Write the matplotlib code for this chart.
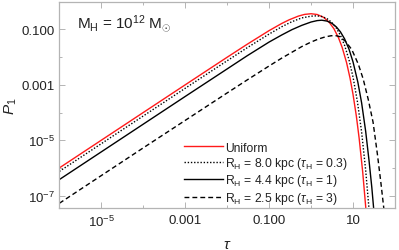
import matplotlib
matplotlib.use("Agg")
import matplotlib.pyplot as plt
from matplotlib.ticker import FixedLocator, FixedFormatter, NullFormatter

plt.rcParams['font.family'] = ['Liberation Sans', 'DejaVu Sans']
plt.rcParams['mathtext.fontset'] = 'custom'
plt.rcParams['mathtext.rm'] = 'Liberation Sans'
plt.rcParams['mathtext.it'] = 'Liberation Sans:italic'
plt.rcParams['mathtext.bf'] = 'Liberation Sans:bold'

# ---- data ----
tau_uniform = [1e-6, 1e-5, 1e-4, 1e-3, 0.01, 0.03, 0.1, 0.2, 0.3, 0.5, 0.7, 1.0, 1.4, 2.0,
               2.7, 3.5, 4.5, 5.5, 7, 8.5, 10, 12, 14, 17, 20, 24]
p_uniform = [1.0e-6, 1.0e-5, 1.0e-4, 9.99e-4, 9.9e-3, 0.0291, 0.0905, 0.164, 0.222, 0.303,
             0.348, 0.368, 0.345, 0.271, 0.181, 0.106, 0.050, 0.0225, 6.4e-3, 1.72e-3,
             4.5e-4, 7.4e-5, 1.16e-5, 7.1e-7, 4.1e-8, 9.1e-10]

tau_r80 = [1e-6, 1e-5, 1e-4, 1e-3, 0.01, 0.03, 0.1, 0.2, 0.35, 0.6, 1.0, 1.35, 1.8, 2.4,
           3.1, 4.0, 5.0, 6.3, 8.0, 10, 12.7, 16, 20, 24, 28]
p_r80 = [7.5e-7, 7.5e-6, 7.5e-5, 7.5e-4, 7.4e-3, 0.0218, 0.068, 0.125, 0.19, 0.26, 0.30,
         0.31, 0.293, 0.244, 0.18, 0.112, 0.0614, 0.0264, 8.1e-3, 1.9e-3, 2.5e-4, 2.0e-5,
         8.3e-7, 3.4e-8, 1.3e-9]

tau_r44 = [1e-6, 1e-5, 1e-4, 1e-3, 0.01, 0.03, 0.1, 0.2, 0.35, 0.6, 1.0, 1.4, 1.8, 2.4,
           3.1, 4.0, 5.0, 6.3, 8.0, 10, 13, 16, 20, 24, 28, 32, 36]
p_r44 = [3.8e-7, 3.8e-6, 3.8e-5, 3.8e-4, 3.75e-3, 0.0112, 0.035, 0.063, 0.098, 0.14, 0.185,
         0.208, 0.215, 0.1995, 0.168, 0.123, 0.082, 0.0454, 0.0195, 6.7e-3, 1.26e-3,
         2.25e-4, 2.1e-5, 1.9e-6, 2.0e-7, 2.0e-8, 2.0e-9]

tau_r25 = [1e-6, 1e-5, 1e-4, 1e-3, 0.01, 0.03, 0.1, 0.2, 0.35, 0.6, 1.0, 1.5, 2.2, 3.0,
           3.8, 4.8, 6.5, 9.3, 13.4, 17.5, 23, 30, 38, 46, 54, 60]
p_r25 = [5.3e-8, 5.3e-7, 5.3e-6, 5.2e-5, 5.1e-4, 1.5e-3, 4.8e-3, 9.2e-3, 0.015, 0.024,
         0.035, 0.045, 0.054, 0.059, 0.060, 0.055, 0.038, 0.019, 5.5e-3, 1.6e-3, 3.0e-4,
         4.5e-5, 3.2e-6, 3.0e-7, 3.6e-8, 8e-9]

labels = ['Uniform',
          r'R$_\mathregular{H}$ = 8.0 kpc ($\tau_\mathregular{H}$ = 0.3)',
          r'R$_\mathregular{H}$ = 4.4 kpc ($\tau_\mathregular{H}$ = 1)',
          r'R$_\mathregular{H}$ = 2.5 kpc ($\tau_\mathregular{H}$ = 3)']

xmajor = [1e-5, 1e-3, 0.1, 10]
xmajor_labels = [r'10$^{\mathregular{-5}}$', '0.001', '0.100', '10']
xminor = [1e-6, 1e-4, 1e-2, 1, 100]
ymajor = [0.1, 1e-3, 1e-5, 1e-7]
ymajor_labels = ['0.100', '0.001', r'10$^{\mathregular{-5}}$', r'10$^{\mathregular{-7}}$']
yminor = [1, 1e-2, 1e-4, 1e-6]

# ---- figure ----
fig = plt.figure(figsize=(3.99, 2.51), dpi=100)
ax = fig.add_axes([59.3 / 399, 1 - 209.3 / 251, (395 - 59.3) / 399, (209.3 - 2.7) / 251])

lw = 1.0
ax.plot(tau_uniform, p_uniform, color='#ff1a1a', lw=lw, label=labels[0])
ax.plot(tau_r80, p_r80, color='black', lw=lw, linestyle=(0, (1, 1.3)), label=labels[1])
ax.plot(tau_r44, p_r44, color='black', lw=lw, label=labels[2])
ax.plot(tau_r25, p_r25, color='black', lw=lw, linestyle=(0, (3.5, 2.2)), label=labels[3])

ax.set_xscale('log')
ax.set_yscale('log')
ax.set_xlim(1e-6, 100)
ax.set_ylim(3.5e-8, 1.0)

ax.xaxis.set_major_locator(FixedLocator(xmajor))
ax.xaxis.set_major_formatter(FixedFormatter(xmajor_labels))
ax.xaxis.set_minor_locator(FixedLocator(xminor))
ax.xaxis.set_minor_formatter(NullFormatter())
ax.yaxis.set_major_locator(FixedLocator(ymajor))
ax.yaxis.set_major_formatter(FixedFormatter(ymajor_labels))
ax.yaxis.set_minor_locator(FixedLocator(yminor))
ax.yaxis.set_minor_formatter(NullFormatter())

frame_col = '#b4b4b4'
for s in ax.spines.values():
    s.set_color(frame_col)
    s.set_linewidth(0.9)
ax.tick_params(which='both', direction='in', top=True, right=True, color=frame_col,
               labelsize=9.5, labelcolor='#222222', width=0.7)
ax.tick_params(which='major', length=4)
ax.tick_params(which='minor', length=2.5)
ax.tick_params(axis='x', pad=4)
ax.tick_params(axis='y', pad=3)

ax.set_xlabel(r'$\tau$', fontsize=11, color='#222222', labelpad=6)
ax.set_ylabel(r'$P_1$', fontsize=11, color='#222222', labelpad=2)

ax.text(0.052, 0.90, r'M$_\mathregular{H}$ = 10$^{\mathregular{12}}$ M$_{\odot}$',
        transform=ax.transAxes, fontsize=11, color='#222222', va='center', ha='left')

leg = ax.legend(loc='lower left', bbox_to_anchor=(0.365, 0.0), frameon=False,
                fontsize=8.7, handlelength=3.2, handletextpad=0.2, labelspacing=0.12,
                borderpad=0.2, borderaxespad=0.0)
for t in leg.get_texts():
    t.set_color('#222222')

fig.savefig('out.png', dpi=100)
